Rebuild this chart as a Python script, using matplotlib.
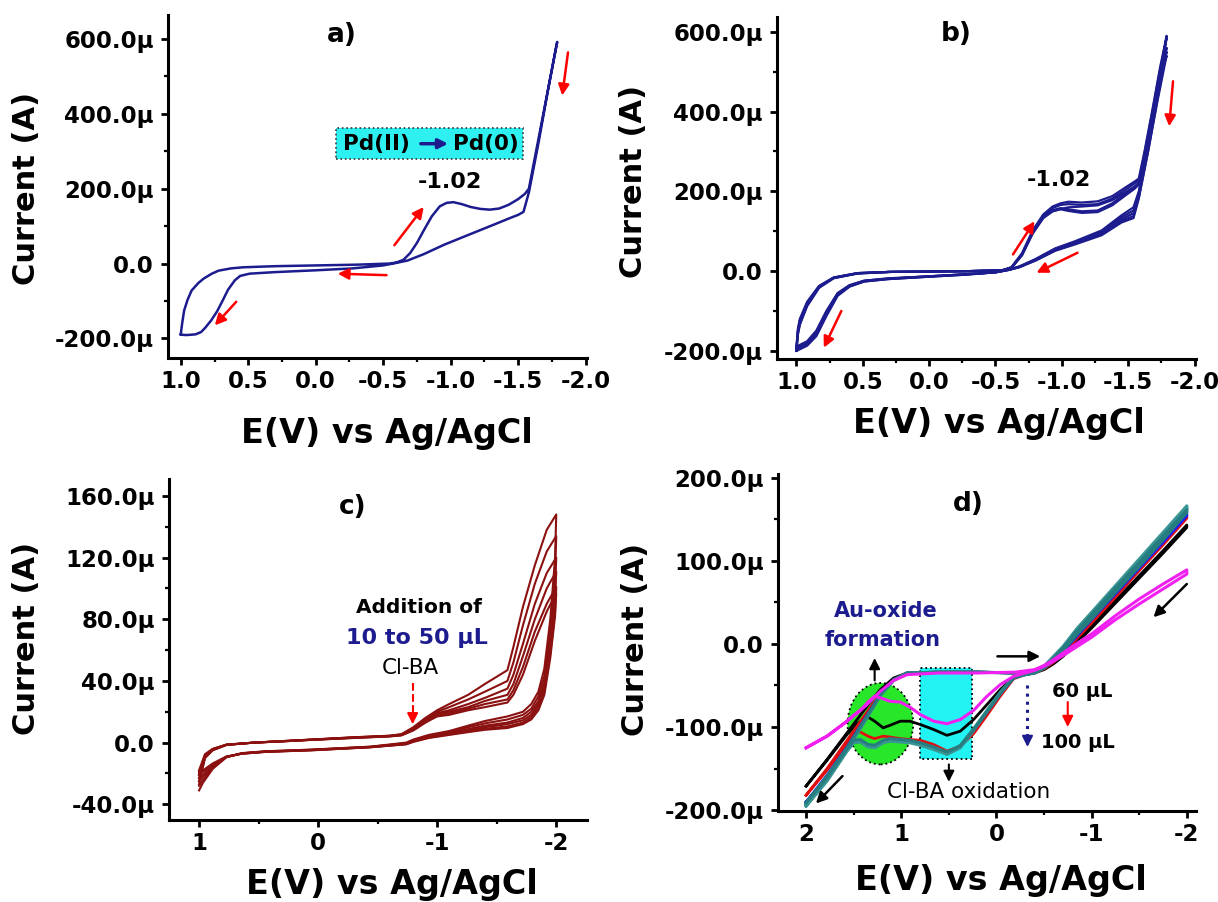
import numpy as np
import matplotlib.pyplot as plt
from matplotlib.ticker import MultipleLocator, FuncFormatter
from matplotlib.patches import Ellipse, Rectangle

plt.rcParams['font.family'] = ['DejaVu Sans']
plt.rcParams['font.weight'] = 'bold'
plt.rcParams['axes.labelweight'] = 'bold'

# ---------------- data (E in V, current in microampere) ----------------
# panel a: single CV of Pd(II)
a_fwd_E = [1.0, 0.99, 0.975, 0.95, 0.92, 0.87, 0.83, 0.77, 0.72, 0.63, 0.54, 0.3, 0.0, -0.3,
           -0.55, -0.6, -0.65, -0.7, -0.75, -0.8, -0.86, -0.92, -0.97, -1.02, -1.08, -1.15,
           -1.22, -1.29, -1.36, -1.43, -1.5, -1.55, -1.58, -1.62, -1.68, -1.74, -1.79]
a_fwd_I = [-188, -160, -125, -97, -72, -52, -40, -27, -19, -13, -10, -7, -5, -3,
           0, 3, 10, 28, 55, 88, 126, 153, 162, 164, 159, 151,
           146, 144, 147, 157, 172, 186, 200, 275, 387, 499, 592]
a_rev_E = [-1.78, -1.72, -1.65, -1.58, -1.54, -1.5, -1.45, -1.3, -1.1, -0.95, -0.8, -0.68, -0.6,
           -0.5, -0.27, 0.0, 0.31, 0.49, 0.56, 0.6, 0.65, 0.69, 0.73, 0.775, 0.82, 0.85, 0.89,
           0.92, 0.96, 1.0]
a_rev_I = [575, 460, 320, 190, 138, 130, 123, 101, 72, 50, 25, 8, 2,
           -5, -13, -18, -23, -27, -33, -45, -70, -99, -127, -152, -172, -183, -189,
           -190, -191, -190]

# panel b: repeated cycles
b_fwd_E = [1.0, 0.99, 0.975, 0.92, 0.83, 0.72, 0.54, 0.3, 0.0, -0.3, -0.55, -0.62, -0.7, -0.78,
           -0.86, -0.93, -0.99, -1.05, -1.15, -1.27, -1.38, -1.48, -1.55, -1.58, -1.62, -1.68,
           -1.74, -1.79]
b_rev_E = [-1.78, -1.72, -1.65, -1.58, -1.54, -1.45, -1.3, -1.1, -0.95, -0.8, -0.68, -0.6, -0.5,
           -0.27, 0.0, 0.31, 0.49, 0.6, 0.69, 0.775, 0.85, 0.92, 1.0]
b_fwd_1 = [-200, -160, -135, -88, -42, -18, -6, -2, -1, 0, 2, 10, 45, 102, 142, 162, 170, 174,
           172, 175, 188, 210, 225, 232, 295, 400, 510, 590]
b_fwd_2 = [-198, -158, -132, -86, -41, -17, -6, -2, -1, 0, 2, 9, 43, 100, 140, 158, 166, 168,
           166, 168, 182, 204, 220, 228, 290, 395, 505, 585]
b_fwd_3 = [-195, -155, -128, -83, -40, -17, -5, -2, -1, 0, 2, 9, 42, 97, 136, 153, 158, 155,
           150, 152, 170, 195, 212, 222, 282, 388, 495, 560]
b_fwd_4 = [-192, -150, -124, -80, -38, -16, -5, -2, -1, 0, 2, 8, 40, 95, 134, 150, 155, 151,
           146, 148, 165, 190, 207, 217, 275, 380, 485, 550]
b_fwd_5 = [-189, -146, -120, -77, -37, -16, -5, -2, -1, 0, 2, 8, 40, 94, 133, 150, 156, 160,
           162, 165, 178, 198, 212, 220, 280, 388, 490, 540]
b_rev_1 = [570, 455, 320, 200, 160, 140, 102, 75, 57, 30, 12, 4, -3, -9, -14, -20, -26, -39,
           -62, -113, -163, -187, -200]
b_rev_2 = [565, 450, 315, 195, 152, 135, 99, 73, 56, 29, 11, 4, -3, -9, -14, -20, -26, -38,
           -60, -110, -160, -185, -198]
b_rev_3 = [545, 440, 310, 190, 145, 130, 96, 71, 54, 28, 10, 3, -3, -8, -13, -19, -25, -37,
           -58, -106, -156, -182, -195]
b_rev_4 = [535, 430, 300, 185, 138, 126, 93, 69, 52, 27, 10, 3, -3, -8, -13, -19, -24, -36,
           -56, -103, -152, -179, -192]
b_rev_5 = [525, 425, 300, 182, 133, 122, 90, 67, 51, 26, 10, 3, -3, -8, -13, -18, -24, -35,
           -55, -100, -149, -176, -189]

# panel c: additions of 10 to 50 uL Cl-BA
c_fwd_E = [1.0, 0.95, 0.885, 0.77, 0.54, 0.3, 0.05, -0.3, -0.6, -0.7, -0.8, -0.9, -1.0, -1.1,
           -1.26, -1.4, -1.59, -1.64, -1.72, -1.82, -1.92, -2.0]
c_rev_E = [-1.99, -1.95, -1.9, -1.85, -1.79, -1.72, -1.59, -1.4, -1.26, -1.1, -0.93, -0.8, -0.74,
           -0.44, 0.05, 0.44, 0.64, 0.77, 0.885, 0.967, 1.0]
c_fwd_1 = [-27, -10, -5, -1.5, 0, 1, 2, 3.5, 4.5, 5.5, 10, 16, 21, 25, 31, 38, 47, 62, 88, 115,
           138, 148]
c_fwd_2 = [-25, -9.5, -4.8, -1.5, 0, 1, 2, 3.4, 4.4, 5.3, 9.5, 15, 20, 23, 28, 33, 40, 52, 76,
           103, 124, 134]
c_fwd_3 = [-23, -9, -4.6, -1.4, 0, 0.9, 1.9, 3.3, 4.3, 5.1, 9, 14, 19, 21, 25, 29, 35, 44, 64,
           90, 110, 120]
c_fwd_4 = [-21, -8.5, -4.4, -1.4, 0, 0.9, 1.9, 3.2, 4.2, 5.0, 8.5, 14, 19, 20, 23, 27, 31, 38,
           56, 80, 100, 111]
c_fwd_5 = [-20, -8, -4.2, -1.3, 0, 0.8, 1.8, 3.1, 4.1, 4.8, 8, 13, 18, 19, 22, 25, 28, 34, 49,
           72, 90, 101]
c_fwd_6 = [-18, -7.5, -4, -1.3, 0, 0.8, 1.8, 3.0, 4.0, 4.7, 8, 13, 17, 18, 21, 23, 26, 31, 44,
           66, 85, 97]
c_rev_1 = [120, 80, 48, 33, 25, 20, 17, 14, 11, 7.5, 5, 2, 0, -2.6, -4.5, -5.6, -6.8, -9.5,
           -17, -26, -31]
c_rev_2 = [110, 74, 43, 30, 22, 18, 15, 12.5, 10, 7, 4.5, 1.6, -0.3, -2.7, -4.6, -5.7, -6.9,
           -9.4, -16, -24, -28]
c_rev_3 = [100, 68, 39, 27, 20, 16, 13, 11, 8.8, 6.3, 4, 1.2, -0.6, -2.8, -4.7, -5.8, -7,
           -9.3, -15, -22, -25]
c_rev_4 = [93, 63, 36, 25, 18, 14.5, 12, 10, 8, 5.8, 3.6, 0.9, -0.8, -2.9, -4.8, -5.9, -7.1,
           -9.2, -14.5, -21, -23]
c_rev_5 = [85, 58, 33, 23, 16.5, 13, 10.5, 9, 7.3, 5.3, 3.3, 0.7, -1, -3, -4.9, -6, -7.2, -9.1,
           -14, -19, -21]
c_rev_6 = [82, 55, 31, 21, 15, 12, 9.5, 8.3, 6.8, 5, 3, 0.5, -1.1, -3, -5, -6, -7.2, -9,
           -13.5, -18, -19]

# panel d: 60 to 100 uL on Au
d_fwd_E = [2.0, 1.78, 1.57, 1.36, 1.22, 1.08, 0.94, 0.6, 0.2, -0.2, -0.4, -0.5, -0.6, -0.7,
           -0.85, -1.0, -1.25, -1.5, -1.75, -2.0]
d_rev_E = [-2.0, -1.75, -1.5, -1.25, -1.0, -0.85, -0.7, -0.6, -0.5, -0.4, -0.3, -0.18, -0.04,
           0.1, 0.24, 0.38, 0.52, 0.66, 0.8, 0.91, 1.01, 1.12, 1.19, 1.28, 1.35, 1.43, 1.5,
           1.57, 1.78, 2.0]
d_fwd_black = [-171, -139, -107, -75, -55, -41, -35, -34, -34, -35, -33, -29, -21, -12, 5, 22,
               52, 82, 112, 143]
d_rev_black = [140, 109, 79, 49, 19, 2, -15, -24, -31, -35, -36, -40, -55, -73, -91, -105,
               -110, -103, -97, -93, -93, -98, -101, -93, -88, -93, -100, -109, -140, -171]
d_fwd_red = [-182, -150, -116, -82, -60, -43, -35, -34, -34, -35, -33, -28, -19, -9, 10, 28,
             60, 92, 123, 155]
d_rev_red = [151, 119, 88, 56, 25, 7, -12, -22, -30, -35, -37, -42, -63, -86, -108, -123,
             -129, -121, -116, -115, -114, -112, -111, -114, -111, -106, -106, -120, -152, -182]
d_fwd_blue = [-190, -158, -124, -86, -61, -43, -35, -34, -34, -35, -33, -28, -18, -7, 13, 32,
              64, 96, 127, 158]
d_rev_blue = [154, 122, 91, 60, 29, 10, -9, -20, -29, -35, -37, -41, -60, -82, -104, -124,
              -132, -126, -121, -118, -117, -116, -118, -124, -123, -117, -117, -126, -162, -190]
d_fwd_teal1 = [-193, -161, -127, -88, -62, -44, -35, -34, -34, -35, -33, -27, -16, -4, 18, 37,
               69, 100, 132, 164]
d_rev_teal1 = [160, 127, 95, 64, 32, 13, -7, -19, -29, -35, -37, -40, -58, -80, -102, -122,
               -131, -125, -120, -117, -116, -115, -117, -123, -122, -116, -117, -127, -163, -193]
d_fwd_teal2 = [-195, -163, -128, -89, -62, -44, -35, -34, -34, -35, -33, -27, -15, -3, 19, 38,
               70, 102, 134, 166]
d_rev_teal2 = [162, 129, 97, 66, 34, 15, -6, -18, -28, -35, -37, -40, -59, -81, -104, -125,
               -133, -127, -122, -119, -118, -117, -119, -125, -124, -118, -119, -129, -165, -195]
d_fwd_teal3 = [-191, -159, -125, -87, -61, -43, -35, -34, -34, -35, -33, -28, -17, -5, 16, 35,
               67, 98, 130, 161]
d_rev_teal3 = [158, 125, 93, 62, 30, 12, -8, -20, -29, -35, -37, -41, -60, -82, -103, -123,
               -130, -124, -119, -116, -115, -114, -116, -122, -121, -115, -116, -126, -161, -191]
d_fwd_mag = [-125, -111, -93, -73, -57, -44, -37, -35, -35, -34, -31, -26, -19, -11, 1, 12,
             34, 54, 72, 89]
d_rev_mag = [84, 66, 48, 29, 8, -3, -14, -21, -27, -32, -35, -39, -49, -63, -80, -91, -96, -93,
             -85, -76, -70, -69, -66, -63, -70, -80, -86, -93, -111, -125]

NAVY = '#1c1c8f'


def cur_fmt(v, pos):
    if abs(v) < 1e-9:
        return "0.0"
    return f"{v:.1f}\u03bc"


def e_fmt1(v, pos):
    if abs(v) < 1e-9:
        return "0.0"
    return f"{v:.1f}"


def e_fmt0(v, pos):
    return str(int(round(v))) if abs(v) > 1e-9 else "0"


def style(ax, xmaj, xmin, ymaj, ymin, xfmt):
    for s in ['top', 'right']:
        ax.spines[s].set_visible(False)
    for s in ['left', 'bottom']:
        ax.spines[s].set_linewidth(2.2)
    ax.xaxis.set_major_locator(MultipleLocator(xmaj))
    ax.xaxis.set_minor_locator(MultipleLocator(xmin))
    ax.yaxis.set_major_locator(MultipleLocator(ymaj))
    ax.yaxis.set_minor_locator(MultipleLocator(ymin))
    ax.yaxis.set_major_formatter(FuncFormatter(cur_fmt))
    ax.xaxis.set_major_formatter(FuncFormatter(xfmt))
    ax.tick_params(which='major', direction='out', length=5, width=2, labelsize=16.5)
    ax.tick_params(which='minor', direction='out', length=3, width=1.6)
    ax.tick_params(axis='y', which='major', pad=5)
    ax.tick_params(axis='x', which='major', pad=3.5)


def labels(ax, xl, yl):
    ax.set_xlabel("E(V) vs Ag/AgCl", fontsize=24)
    ax.xaxis.set_label_coords(*xl)
    ax.set_ylabel("Current (A)", fontsize=22)
    ax.yaxis.set_label_coords(*yl)


def red_arrow(ax, start, end, color='red', lw=1.8, ls='-'):
    ax.annotate('', xy=end, xytext=start,
                arrowprops=dict(arrowstyle='-|>', color=color, lw=lw, ls=ls,
                                mutation_scale=16, shrinkA=0, shrinkB=0))


fig = plt.figure(figsize=(12.18, 9.02), dpi=100)

# ---------------- a ----------------
ax = fig.add_axes([0.1378, 0.6028, 0.3445, 0.3806])
ax.plot(a_fwd_E + a_rev_E, a_fwd_I + a_rev_I, color=NAVY, lw=1.8)
ax.set_xlim(1.096, -2.014)
ax.set_ylim(-253, 664)
style(ax, 0.5, 0.25, 200, 100, e_fmt1)
labels(ax, (0.523, -0.171), (-0.302, 0.495))
ax.text(0.414, 0.942, "a)", transform=ax.transAxes, fontsize=19, ha='center', va='center')
ax.text(0.672, 0.514, "-1.02", transform=ax.transAxes, fontsize=16, ha='center', va='center')
ax.add_patch(Rectangle((0.400, 0.580), 0.4465, 0.090, transform=ax.transAxes,
                       facecolor='#2ff0f0', edgecolor='#333333', ls=':', lw=1.2))
ax.text(0.498, 0.625, "Pd(II)", transform=ax.transAxes, fontsize=15.5, ha='center', va='center')
ax.text(0.758, 0.625, "Pd(0)", transform=ax.transAxes, fontsize=15.5, ha='center', va='center')
ax.annotate('', xy=(0.668, 0.625), xytext=(0.603, 0.625), xycoords='axes fraction',
            arrowprops=dict(arrowstyle='-|>', color=NAVY, lw=2.5, mutation_scale=14,
                            shrinkA=0, shrinkB=0))
red_arrow(ax, (-1.870, 564), (-1.827, 449))
red_arrow(ax, (-0.583, 49), (-0.800, 151))
red_arrow(ax, (-0.525, -31), (-0.163, -27))
red_arrow(ax, (0.589, -102), (0.748, -165))

# ---------------- b ----------------
ax = fig.add_axes([0.6378, 0.6017, 0.3439, 0.3798])
for f, r in [(b_fwd_1, b_rev_1), (b_fwd_2, b_rev_2), (b_fwd_3, b_rev_3),
             (b_fwd_4, b_rev_4), (b_fwd_5, b_rev_5)]:
    ax.plot(b_fwd_E + b_rev_E, f + r, color=NAVY, lw=1.6)
ax.set_xlim(1.148, -2.009)
ax.set_ylim(-221, 638)
style(ax, 0.5, 0.25, 200, 100, e_fmt1)
labels(ax, (0.531, -0.138), (-0.307, 0.518))
ax.text(0.429, 0.950, "b)", transform=ax.transAxes, fontsize=19, ha='center', va='center')
ax.text(0.673, 0.523, "-1.02", transform=ax.transAxes, fontsize=16, ha='center', va='center')
red_arrow(ax, (-1.838, 476), (-1.809, 363))
red_arrow(ax, (-0.632, 42), (-0.794, 125))
red_arrow(ax, (-1.118, 46), (-0.809, -4))
red_arrow(ax, (0.662, -100), (0.794, -192))

# ---------------- c ----------------
ax = fig.add_axes([0.1384, 0.0909, 0.3439, 0.3777])
for f, r in [(c_fwd_1, c_rev_1), (c_fwd_2, c_rev_2), (c_fwd_3, c_rev_3),
             (c_fwd_4, c_rev_4), (c_fwd_5, c_rev_5), (c_fwd_6, c_rev_6)]:
    ax.plot(c_fwd_E + c_rev_E, f + r, color='#8b1010', lw=1.5)
ax.set_xlim(1.256, -2.262)
ax.set_ylim(-50.2, 170.8)
style(ax, 1, 0.5, 40, 20, e_fmt0)
labels(ax, (0.534, -0.14), (-0.305, 0.533))
ax.text(0.439, 0.919, "c)", transform=ax.transAxes, fontsize=19, ha='center', va='center')
ax.text(0.597, 0.623, "Addition of", transform=ax.transAxes, fontsize=14.5,
        ha='center', va='center')
ax.text(0.592, 0.533, "10 to 50 \u03bcL", transform=ax.transAxes, fontsize=16,
        color=NAVY, ha='center', va='center')
ax.text(0.578, 0.447, "Cl-BA", transform=ax.transAxes, fontsize=15.5, fontweight='normal',
        ha='center', va='center')
ax.plot([-0.794, -0.794], [38.9, 19], color='red', lw=1.5, ls='--')
red_arrow(ax, (-0.794, 19), (-0.794, 11.9), lw=1.5)

# ---------------- d ----------------
ax = fig.add_axes([0.6384, 0.1009, 0.3438, 0.3733])
ax.add_patch(Ellipse((1.22, -96), 0.69, 98, facecolor='#28e628', edgecolor='black',
                     ls=':', lw=1.3, zorder=1))
ax.add_patch(Rectangle((0.26, -139), 0.54, 110, facecolor='#22f2f2', edgecolor='black',
                       ls=':', lw=1.3, zorder=1))
d_loops = [(d_fwd_black, d_rev_black, 'black', 2.0),
           (d_fwd_red, d_rev_red, '#e01010', 2.0),
           (d_fwd_blue, d_rev_blue, '#1a1aff', 2.0),
           (d_fwd_teal1, d_rev_teal1, '#2a8a8a', 2.2),
           (d_fwd_teal2, d_rev_teal2, '#3a9595', 2.2),
           (d_fwd_teal3, d_rev_teal3, '#267d80', 2.2),
           (d_fwd_mag, d_rev_mag, '#f020f0', 2.2)]
for f, r, col, lw in d_loops:
    ax.plot(d_fwd_E + d_rev_E, f + r, color=col, lw=lw, zorder=3)
ax.set_xlim(2.30, -2.10)
ax.set_ylim(-201, 204)
style(ax, 1, 0.5, 100, 50, e_fmt0)
labels(ax, (0.534, -0.158), (-0.305, 0.51))
ax.text(0.455, 0.911, "d)", transform=ax.transAxes, fontsize=19, ha='center', va='center')
ax.text(0.259, 0.594, "Au-oxide", transform=ax.transAxes, fontsize=15, color=NAVY,
        ha='center', va='center')
ax.text(0.250, 0.507, "formation", transform=ax.transAxes, fontsize=15, color=NAVY,
        ha='center', va='center')
ax.text(0.457, 0.057, "Cl-BA oxidation", transform=ax.transAxes, fontsize=15.5,
        fontweight='normal', ha='center', va='center')
ax.text(0.727, 0.354, "60 \u03bcL", transform=ax.transAxes, fontsize=14,
        ha='center', va='center')
ax.text(0.718, 0.203, "100 \u03bcL", transform=ax.transAxes, fontsize=14,
        ha='center', va='center')
red_arrow(ax, (1.28, -44), (1.28, -17), color='black', lw=1.5)
red_arrow(ax, (0.50, -145), (0.50, -166), color='black', lw=1.5)
red_arrow(ax, (-0.01, -15), (-0.46, -15), color='black', lw=1.8)
red_arrow(ax, (-2.0, 72), (-1.65, 32), color='black', lw=1.8)
red_arrow(ax, (1.618, -159), (1.897, -192), color='black', lw=1.8)
red_arrow(ax, (-0.749, -70), (-0.749, -100), lw=1.5)
ax.plot([-0.326, -0.326], [-50, -110], color=NAVY, lw=2.2, ls=':')
red_arrow(ax, (-0.326, -110), (-0.326, -124), color=NAVY, lw=1.5)

fig.savefig("out.png", dpi=100)
